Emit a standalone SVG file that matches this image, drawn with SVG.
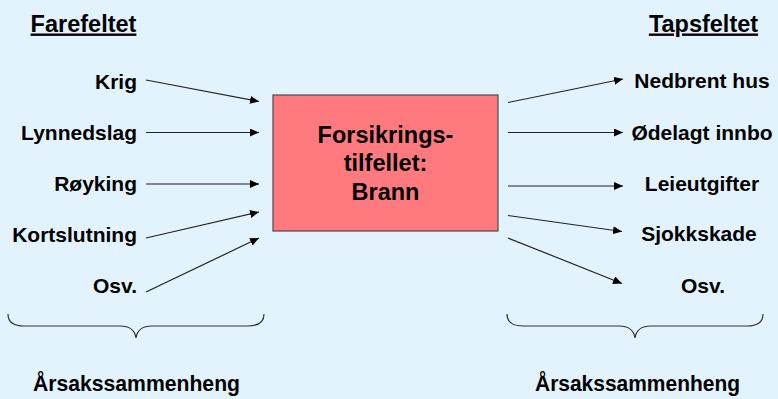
<svg xmlns="http://www.w3.org/2000/svg" width="778" height="399" viewBox="0 0 778 399">
  <style>
    .t { font-family: "Liberation Sans", Arial, sans-serif; font-weight: bold; fill: #000; }
    .item { font-size: 21px; }
    .hdr { font-size: 23.5px; text-decoration: underline; }
    .box-t { font-size: 23.5px; }
    .foot { font-size: 22px; }
    .conn { stroke: #222; stroke-width: 1.2; fill: none; marker-end: url(#arr); }
    .brace { stroke: #333; stroke-width: 1.2; fill: none; }
  </style>
  <defs>
    <marker id="arr" markerUnits="userSpaceOnUse" markerWidth="9" markerHeight="8" refX="9" refY="4" orient="auto">
      <path d="M0,0 L9,4 L0,8 z" fill="#000"/>
    </marker>
  </defs>
  <rect width="778" height="399" fill="#E2F3FE"/>

  <g id="header-farefeltet"><text class="t hdr" x="83.5" y="31.5" text-anchor="middle">Farefeltet</text></g>
  <g id="header-tapsfeltet"><text class="t hdr" x="703.5" y="31.5" text-anchor="middle">Tapsfeltet</text></g>

  <g id="node-brann">
    <rect x="273" y="95" width="225" height="136" fill="#FF7A7E" stroke="#4a4a4a" stroke-width="1.2"/>
    <text class="t box-t" x="385.5" y="143" text-anchor="middle">Forsikrings-</text>
    <text class="t box-t" x="385.5" y="171" text-anchor="middle">tilfellet:</text>
    <text class="t box-t" x="385.5" y="200" text-anchor="middle">Brann</text>
  </g>

  <g id="node-krig"><text class="t item" x="137" y="88.5" text-anchor="end">Krig</text></g>
  <g id="node-lynnedslag"><text class="t item" x="137" y="139.5" text-anchor="end">Lynnedslag</text></g>
  <g id="node-royking"><text class="t item" x="137" y="190.5" text-anchor="end">Røyking</text></g>
  <g id="node-kortslutning"><text class="t item" x="137" y="241.5" text-anchor="end">Kortslutning</text></g>
  <g id="node-osv-left"><text class="t item" x="137" y="292.5" text-anchor="end">Osv.</text></g>

  <g id="node-nedbrent"><text class="t item" x="702" y="88" text-anchor="middle">Nedbrent hus</text></g>
  <g id="node-odelagt"><text class="t item" x="702" y="139.5" text-anchor="middle">Ødelagt innbo</text></g>
  <g id="node-leie"><text class="t item" x="702" y="190.5" text-anchor="middle">Leieutgifter</text></g>
  <g id="node-sjokk"><text class="t item" x="699" y="241" text-anchor="middle">Sjokkskade</text></g>
  <g id="node-osv-right"><text class="t item" x="703" y="292.5" text-anchor="middle">Osv.</text></g>

  <g id="connectors">
    <line class="conn" x1="146" y1="80" x2="259" y2="101.5"/>
    <line class="conn" x1="146" y1="132.5" x2="259" y2="132.5"/>
    <line class="conn" x1="146" y1="184" x2="259" y2="184"/>
    <line class="conn" x1="146" y1="238" x2="259" y2="212"/>
    <line class="conn" x1="146" y1="292" x2="259" y2="238"/>

    <line class="conn" x1="508" y1="102.5" x2="623" y2="79"/>
    <line class="conn" x1="508" y1="132.5" x2="623" y2="132.5"/>
    <line class="conn" x1="508" y1="186" x2="623" y2="186"/>
    <line class="conn" x1="508" y1="215.5" x2="622" y2="231.5"/>
    <line class="conn" x1="508" y1="238" x2="622" y2="283.5"/>
  </g>

  <g id="brace-left">
    <path class="brace" d="M8,314 C8,322 14,326 24,326 L120,326 C130,326 135,331 136,338 C137,331 142,326 152,326 L248,326 C258,326 264,322 264,314"/>
    <text class="t foot" x="136.5" y="391" text-anchor="middle" textLength="207" lengthAdjust="spacingAndGlyphs">Årsakssammenheng</text>
  </g>
  <g id="brace-right">
    <path class="brace" d="M507,314 C507,322 513,326 523,326 L619,326 C629,326 634,331 635,338 C636,331 641,326 651,326 L747,326 C757,326 763,322 763,314"/>
    <text class="t foot" x="637.5" y="391" text-anchor="middle" textLength="205" lengthAdjust="spacingAndGlyphs">Årsakssammenheng</text>
  </g>
</svg>
